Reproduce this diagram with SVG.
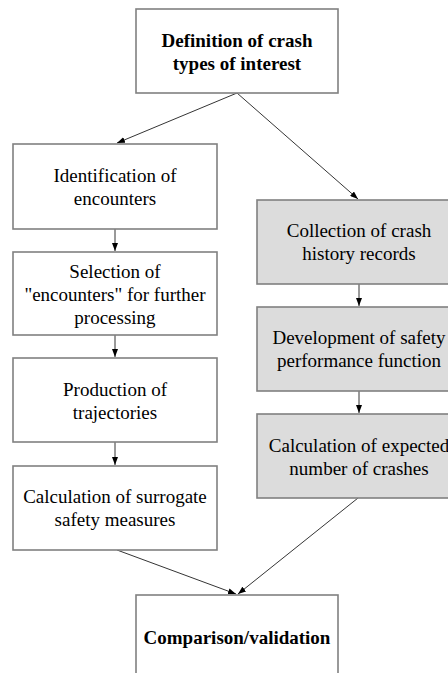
<svg xmlns="http://www.w3.org/2000/svg" width="448" height="673" viewBox="0 0 448 673">
<defs>
<marker id="ah" markerWidth="8" markerHeight="6" refX="8" refY="3" orient="auto" markerUnits="userSpaceOnUse">
<path d="M0,0 L8,3 L0,6 Z" fill="#000"/>
</marker>
</defs>
<rect width="448" height="673" fill="#fff"/>
<g id="connectors" stroke="#000" stroke-width="0.8" fill="none" marker-end="url(#ah)">
<line x1="237" y1="93" x2="117" y2="143"/>
<line x1="237" y1="93" x2="358" y2="199"/>
<line x1="115" y1="229" x2="115" y2="251"/>
<line x1="115" y1="335" x2="115" y2="357"/>
<line x1="115" y1="442" x2="115" y2="465"/>
<line x1="359" y1="284" x2="359" y2="306"/>
<line x1="359" y1="391" x2="359" y2="413"/>
<line x1="117" y1="550" x2="236" y2="594"/>
<line x1="358" y1="498" x2="238" y2="594"/>
</g>
<g id="n-definition">
<rect x="136" y="9" width="202" height="84" fill="#fff" stroke="#808080" stroke-width="1.6"/>
<text font-family="Liberation Serif" font-size="19" font-weight="bold" text-anchor="middle" x="237" y="47">Definition of crash</text>
<text font-family="Liberation Serif" font-size="19" font-weight="bold" text-anchor="middle" x="237" y="70">types of interest</text>
</g>
<g id="n-identification">
<rect x="13" y="144" width="204" height="85" fill="#fff" stroke="#808080" stroke-width="1.6"/>
<text font-family="Liberation Serif" font-size="19" text-anchor="middle" x="115" y="182">Identification of</text>
<text font-family="Liberation Serif" font-size="19" text-anchor="middle" x="115" y="205">encounters</text>
</g>
<g id="n-selection">
<rect x="13" y="252" width="204" height="83" fill="#fff" stroke="#808080" stroke-width="1.6"/>
<text font-family="Liberation Serif" font-size="19" text-anchor="middle" x="115" y="278">Selection of</text>
<text font-family="Liberation Serif" font-size="19" text-anchor="middle" x="115" y="301">"encounters" for further</text>
<text font-family="Liberation Serif" font-size="19" text-anchor="middle" x="115" y="324">processing</text>
</g>
<g id="n-production">
<rect x="13" y="358" width="204" height="84" fill="#fff" stroke="#808080" stroke-width="1.6"/>
<text font-family="Liberation Serif" font-size="19" text-anchor="middle" x="115" y="396">Production of</text>
<text font-family="Liberation Serif" font-size="19" text-anchor="middle" x="115" y="419">trajectories</text>
</g>
<g id="n-surrogate">
<rect x="13" y="466" width="204" height="84" fill="#fff" stroke="#808080" stroke-width="1.6"/>
<text font-family="Liberation Serif" font-size="19" text-anchor="middle" x="115" y="503">Calculation of surrogate</text>
<text font-family="Liberation Serif" font-size="19" text-anchor="middle" x="115" y="526">safety measures</text>
</g>
<g id="n-collection">
<rect x="257" y="200" width="204" height="84" fill="#dcdcdc" stroke="#808080" stroke-width="1.6"/>
<text font-family="Liberation Serif" font-size="19" text-anchor="middle" x="359" y="237">Collection of crash</text>
<text font-family="Liberation Serif" font-size="19" text-anchor="middle" x="359" y="260">history records</text>
</g>
<g id="n-development">
<rect x="257" y="307" width="204" height="84" fill="#dcdcdc" stroke="#808080" stroke-width="1.6"/>
<text font-family="Liberation Serif" font-size="19" text-anchor="middle" x="359" y="344">Development of safety</text>
<text font-family="Liberation Serif" font-size="19" text-anchor="middle" x="359" y="367">performance function</text>
</g>
<g id="n-expected">
<rect x="257" y="414" width="204" height="84" fill="#dcdcdc" stroke="#808080" stroke-width="1.6"/>
<text font-family="Liberation Serif" font-size="19" text-anchor="middle" x="359" y="452">Calculation of expected</text>
<text font-family="Liberation Serif" font-size="19" text-anchor="middle" x="359" y="475">number of crashes</text>
</g>
<g id="n-comparison">
<rect x="136" y="595" width="202" height="84" fill="#fff" stroke="#808080" stroke-width="1.6"/>
<text font-family="Liberation Serif" font-size="19" font-weight="bold" text-anchor="middle" x="237" y="644">Comparison/validation</text>
</g>
</svg>
